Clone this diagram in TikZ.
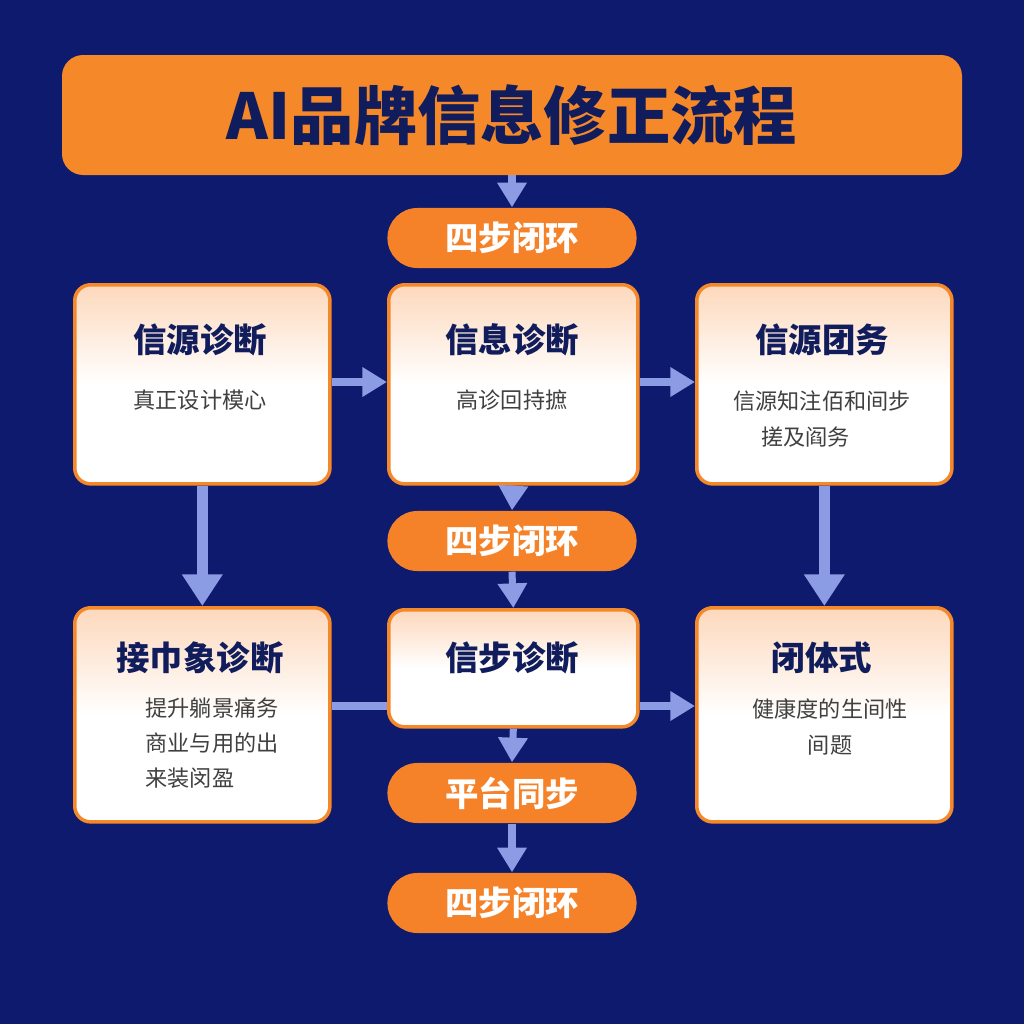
\documentclass[tikz,border=0pt]{standalone}
\usepackage{fontspec}
\setmainfont{Noto Sans CJK SC}
\usetikzlibrary{arrows.meta}
\definecolor{navy}{HTML}{0E1A6E}
\definecolor{ink}{HTML}{101C5C}
\definecolor{brand}{HTML}{F5892A}
\definecolor{peach}{HTML}{FDD8BC}
\definecolor{flow}{HTML}{8C9CE4}
\begin{document}
\begin{tikzpicture}[x=0.01cm,y=-0.01cm]

\tikzstyle{block} = [draw=brand, line width=1pt, rounded corners=4.5pt, top color=peach, bottom color=white, middle color=white, anchor=north west]
\tikzstyle{pill} = [rounded corners=8.5pt, fill=brand!95!red, minimum width=2.49cm, minimum height=0.6cm, text=white, font=\bfseries\fontsize{9.5}{10}\selectfont]
\tikzstyle{head} = [text=ink, font=\bfseries\fontsize{9.5}{10}\selectfont]
\tikzstyle{body} = [text=black!75, font=\fontsize{6.3}{10}\selectfont, align=left]
\tikzstyle{link} = [draw=flow, line width=2pt, -{Triangle[length=7pt,width=8pt]}]

\useasboundingbox (0,0) rectangle (1024,1024);
\fill[navy] (0,0) rectangle (1024,1024);

%Title
\fill[brand, rounded corners=6pt] (62,55) rectangle (962,175);
\path (512,115) node (title) [text=ink, font=\bfseries\fontsize{18}{20}\selectfont] {AI品牌信息修正流程};
\coordinate (t_out) at (512,175);

%Pills in the middle column
\path (512,238) node (pill_a) [pill] {四步闭环};
\path (512,541) node (pill_b) [pill] {四步闭环};
\path (512,793) node (pill_c) [pill] {平台同步};
\path (512,903) node (pill_d) [pill] {四步闭环};

%Top row
\path (73,283) node (src_diag) [block, minimum width=2.55cm, minimum height=1.99cm] {};
\path (387,283) node (info_diag) [block, minimum width=2.49cm, minimum height=1.99cm] {};
\path (695,283) node (src_team) [block, minimum width=2.55cm, minimum height=1.99cm] {};

\path (200,340) node [head] {信源诊断};
\path (200,400) node [body] {真正设计模心};
\path (512,340) node [head] {信息诊断};
\path (512,400) node [body] {高诊回持摭};
\path (822,340) node [head] {信源团务};
\path (822,419) node [body, align=center] {信源知注佰和间步\\\hspace*{-1.5em}搓及阎务};

%Bottom row
\path (73,606) node (img_diag) [block, minimum width=2.55cm, minimum height=2.14cm] {};
\path (387,608) node (step_diag) [block, minimum width=2.49cm, minimum height=1.17cm] {};
\path (695,606) node (closed) [block, minimum width=2.55cm, minimum height=2.14cm] {};

\path (200,658) node [head] {接巾象诊断};
\path (212,743) node [body] {提升躺景痛务\\商业与用的出\\来装闵盈};
\path (512,658) node [head] {信步诊断};
\path (822,658) node [head] {闭体式};
\path (830,727) node [body, align=center] {健康度的生间性\\间题};

%Arrows
\draw [link] (t_out) -- (pill_a.north);
\draw [link] (src_diag.east |- 0,382) -- (info_diag.west |- 0,382);
\draw [link] (info_diag.east |- 0,382) -- (src_team.west |- 0,382);
\draw [link] (info_diag.south) -- (pill_b.north);
\draw [link] (pill_b.south) -- (step_diag.north);
\draw [link, line width=3pt, -{Triangle[length=9pt,width=11pt]}] (src_diag.south) -- (img_diag.north);
\draw [link, line width=3pt, -{Triangle[length=9pt,width=11pt]}] (src_team.south) -- (closed.north);
\draw [draw=flow, line width=2pt] (img_diag.east |- 0,706) -- (step_diag.west |- 0,706);
\draw [link] (step_diag.east |- 0,706) -- (closed.west |- 0,706);
\draw [link] (step_diag.south) -- (pill_c.north);
\draw [link] (pill_c.south) -- (pill_d.north);

\end{tikzpicture}
\end{document}
